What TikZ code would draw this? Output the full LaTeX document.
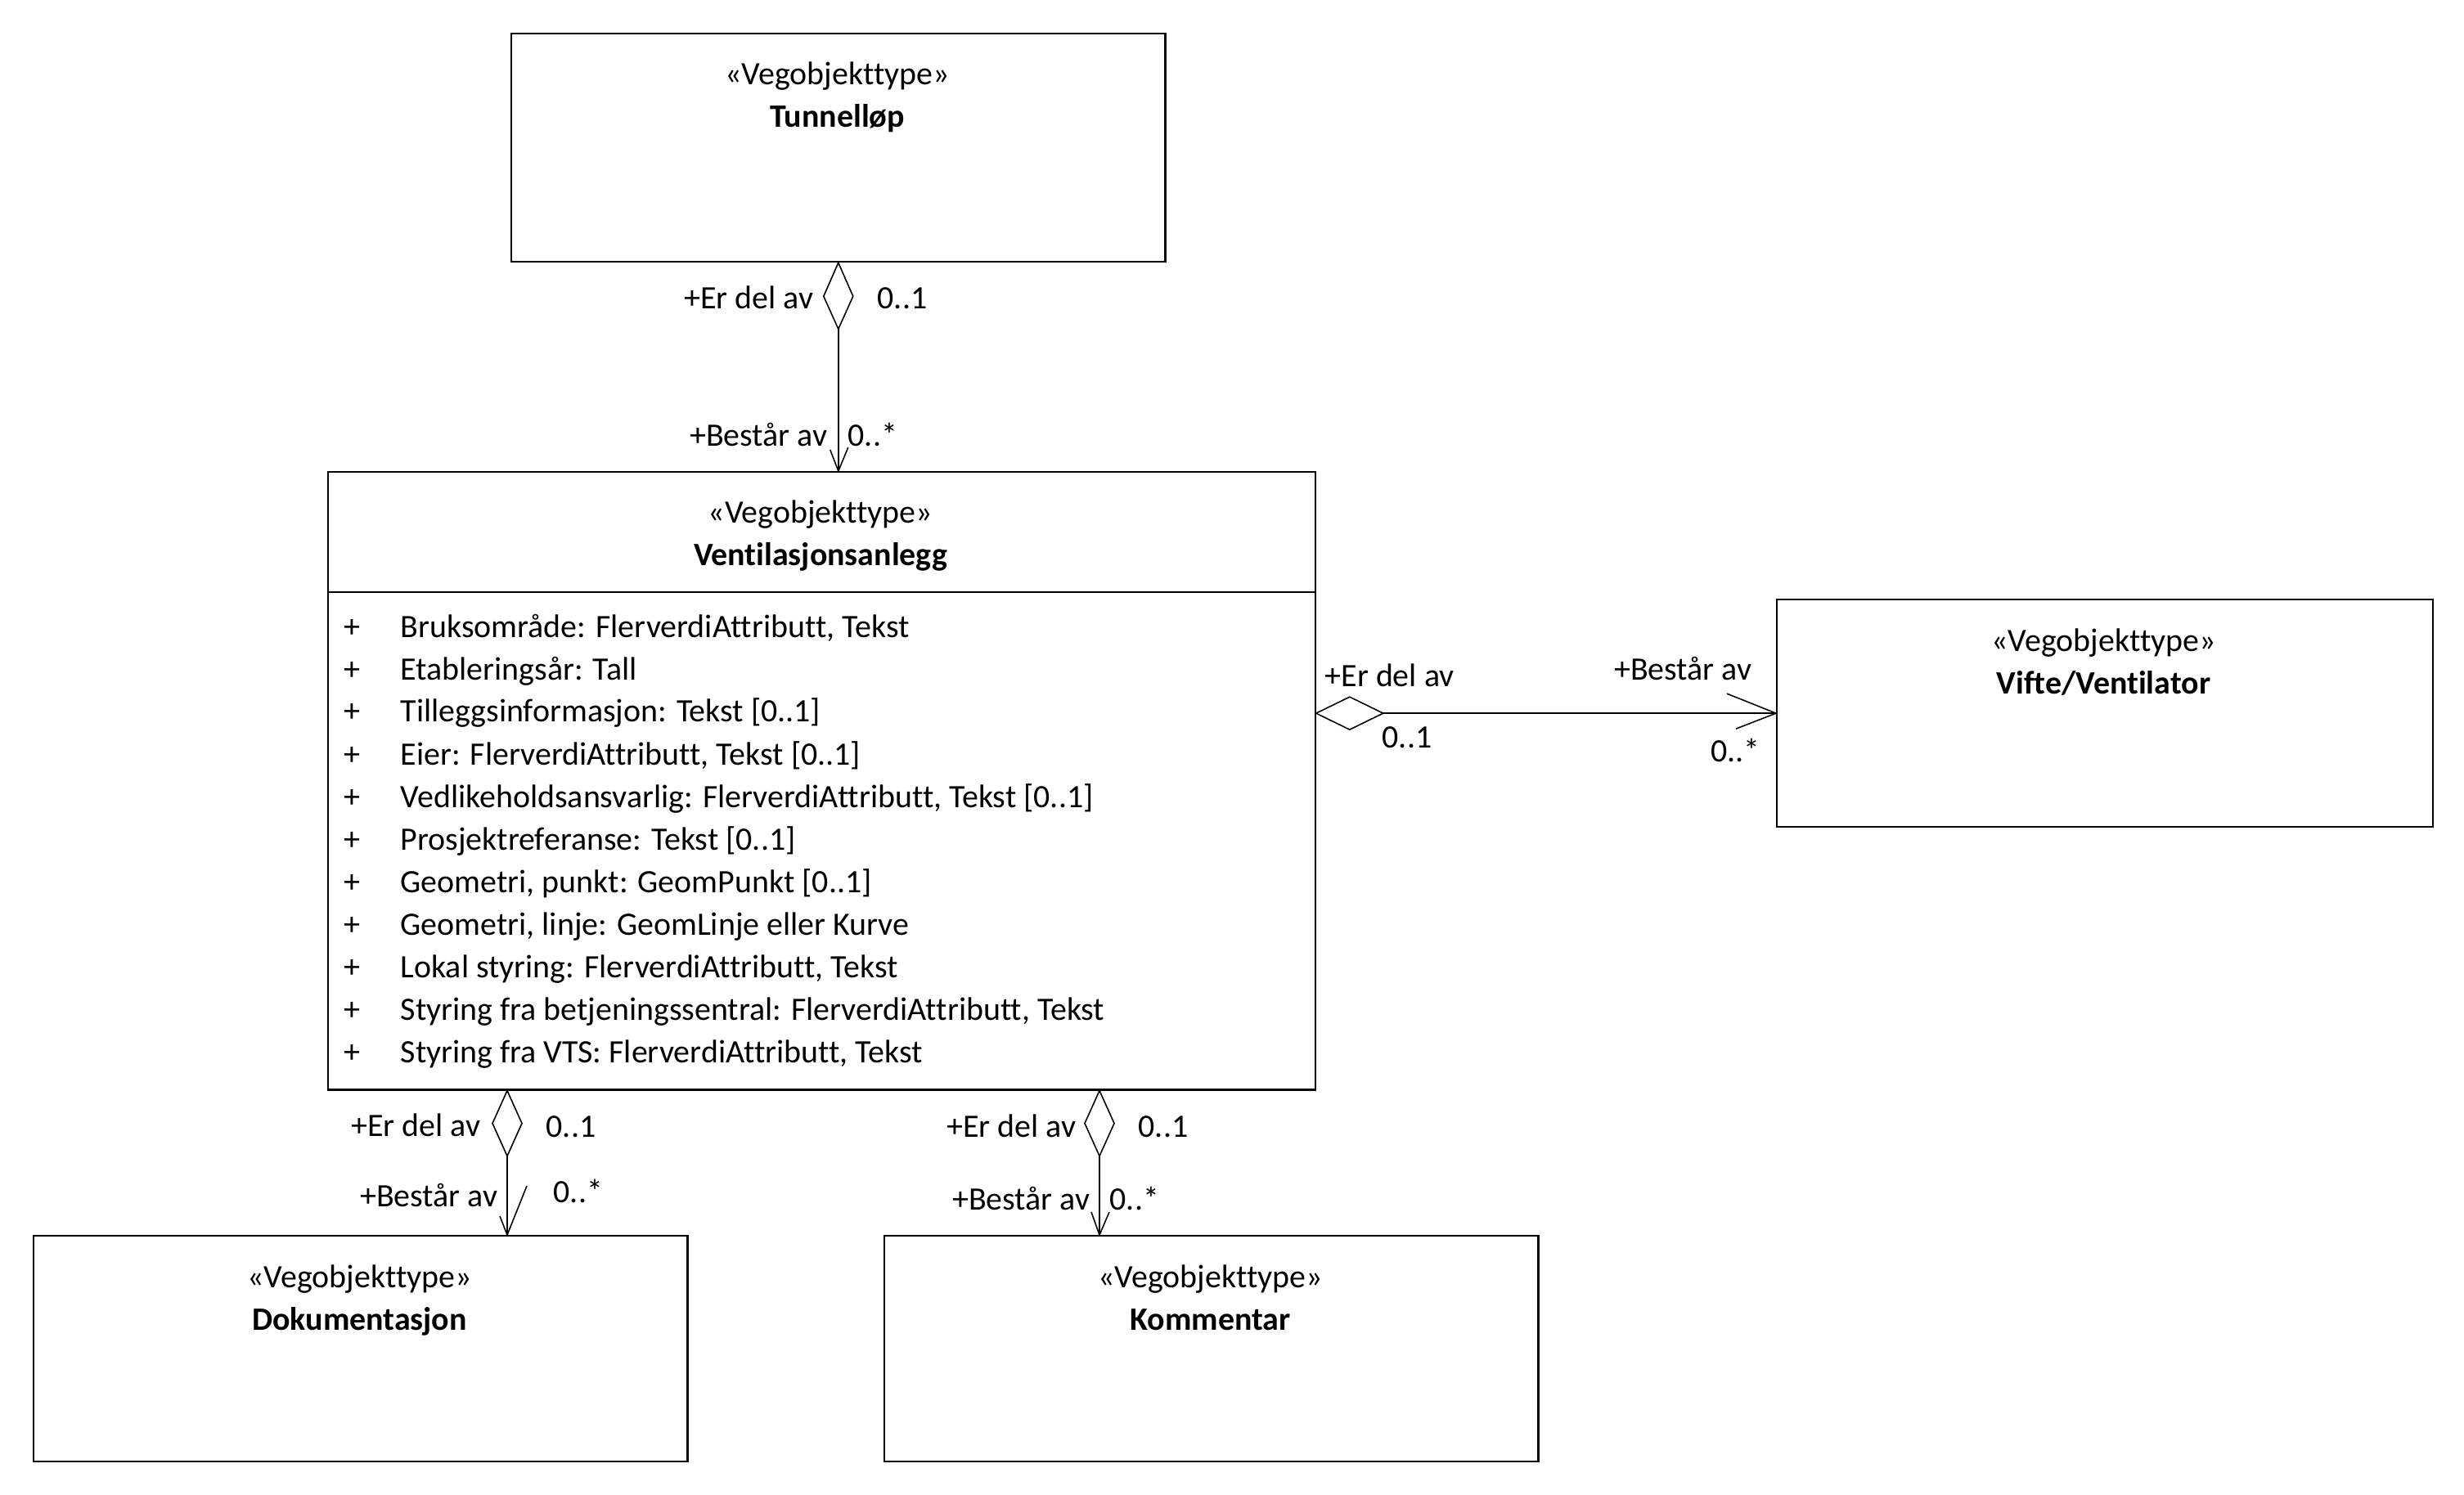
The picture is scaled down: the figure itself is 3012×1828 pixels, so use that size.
\documentclass[tikz,border=0pt]{standalone}
\usepackage{fontspec}
\setmainfont{Carlito}[Ligatures={NoCommon}]
\usetikzlibrary{calc}
\begin{document}
\begin{tikzpicture}[x=0.01cm,y=-0.01cm,
  box/.style={draw=black,line width=0.6pt,fill=white,inner sep=0pt,anchor=north west},
  conn/.style={draw=black,line width=0.45pt},
  txt/.style={inner sep=0pt,font=\fontsize{11.35}{14.8}\selectfont},
  stereo/.style={txt,anchor=base},
  cname/.style={txt,anchor=base,font=\fontsize{11.35}{14.8}\selectfont\bfseries},
  lblE/.style={txt,anchor=base east},
  lblW/.style={txt,anchor=base west},
  attr/.style={txt,anchor=base west}]
\useasboundingbox[fill=white] (0,0) rectangle (3012,1828);

% ---------- boxes ----------
\node[box,minimum width=7.99cm,minimum height=2.79cm] (tun) at (624,40) {};
\node[box,minimum width=12.06cm,minimum height=7.55cm] (vent) at (400,576) {};
\node[box,minimum width=8.01cm,minimum height=2.78cm] (vif) at (2171,732) {};
\node[box,minimum width=7.99cm,minimum height=2.76cm] (dok) at (40,1510) {};
\node[box,minimum width=7.99cm,minimum height=2.76cm] (kom) at (1080,1510) {};

% ---------- box titles ----------
\node[stereo] (tunS) at (1023.5,104) {«Vegobjekttype»};
\node[cname] (tunN) at (1023.5,156) {Tunnelløp};
\node[stereo] (ventS) at (1003,640) {«Vegobjekttype»};
\node[cname] (ventN) at (1003,692) {Ventilasjonsanlegg};
\node[stereo] (vifS) at (2571.5,796) {«Vegobjekttype»};
\node[cname] (vifN) at (2571.5,848) {Vifte/Ventilator};
\node[stereo] (dokS) at (439.5,1574) {«Vegobjekttype»};
\node[cname] (dokN) at (439.5,1626) {Dokumentasjon};
\node[stereo] (komS) at (1479.5,1574) {«Vegobjekttype»};
\node[cname] (komN) at (1479.5,1626) {Kommentar};

% separator
\draw[line width=0.5pt] (vent.west |- 0,724) -- (vent.east |- 0,724);

% ---------- attributes ----------
\foreach \t [count=\i from 0] in {
  {Bruksområde: FlerverdiAttributt, Tekst},
  {Etableringsår: Tall},
  {Tilleggsinformasjon: Tekst [0..1]},
  {Eier: FlerverdiAttributt, Tekst [0..1]},
  {Vedlikeholdsansvarlig: FlerverdiAttributt, Tekst [0..1]},
  {Prosjektreferanse: Tekst [0..1]},
  {Geometri, punkt: GeomPunkt [0..1]},
  {Geometri, linje: GeomLinje eller Kurve},
  {Lokal styring: FlerverdiAttributt, Tekst},
  {Styring fra betjeningssentral: FlerverdiAttributt, Tekst},
  {Styring fra VTS: FlerverdiAttributt, Tekst}} {
  \node[txt,anchor=base] (plus\i) at (430,{779+52*\i}) {+};
  \node[attr] (attr\i) at (489,{779+52*\i}) {\t};
}

% ---------- Tunnelløp -> Ventilasjonsanlegg ----------
\coordinate (d1) at ($(tun.south)+(0,81)$);
\coordinate (e1) at (tun.south |- vent.north);
\draw[conn,fill=white] (tun.south) -- ++(-18,41) -- ++(18,40) -- ++(18,-40) -- cycle;
\draw[conn] (d1) -- (e1);
\draw[conn] (e1) -- ++(-10,-26) (e1) -- ++(12,-29);
\node[lblE] (l1a) at (995,378) {+Er del av};
\node[lblW] (l1b) at (1072,378) {0..1};
\node[lblE] (l1c) at (1012,546) {+Består av};
\node[lblW] (l1d) at (1036,546) {0..*};

% ---------- Ventilasjonsanlegg -> Vifte/Ventilator ----------
\coordinate (s2) at (vif.west -| vent.east);
\coordinate (d2) at ($(s2)+(82,0)$);
\draw[conn,fill=white] (s2) -- ++(41,-20) -- ++(41,20) -- ++(-41,20) -- cycle;
\draw[conn] (d2) -- (vif.west);
\draw[conn] (vif.west) -- ++(-60,-24) (vif.west) -- ++(-49,19);
\node[lblW] (l2a) at (1619,839) {+Er del av};
\node[lblW] (l2b) at (1689,914) {0..1};
\node[lblE] (l2c) at (2142,831) {+Består av};
\node[lblE] (l2d) at (2152,931) {0..*};

% ---------- Ventilasjonsanlegg -> Dokumentasjon ----------
\coordinate (bl) at (620,0);
\coordinate (s3) at (vent.south -| bl);
\coordinate (d3) at ($(s3)+(0,80)$);
\coordinate (e3) at (dok.north -| bl);
\draw[conn,fill=white] (s3) -- ++(-18,40) -- ++(18,40) -- ++(18,-40) -- cycle;
\draw[conn] (d3) -- (e3);
\draw[conn] (e3) -- ++(-9,-23) (e3) -- ++(24,-60);
\node[lblE] (l3a) at (588,1389) {+Er del av};
\node[lblW] (l3b) at (667,1390) {0..1};
\node[lblE] (l3c) at (609,1475) {+Består av};
\node[lblW] (l3d) at (676,1470) {0..*};

% ---------- Ventilasjonsanlegg -> Kommentar ----------
\coordinate (br) at (1344,0);
\coordinate (s4) at (vent.south -| br);
\coordinate (d4) at ($(s4)+(0,80)$);
\coordinate (e4) at (kom.north -| br);
\draw[conn,fill=white] (s4) -- ++(-18,40) -- ++(18,40) -- ++(18,-40) -- cycle;
\draw[conn] (d4) -- (e4);
\draw[conn] (e4) -- ++(-10,-28) (e4) -- ++(12,-28);
\node[lblE] (l4a) at (1316,1390) {+Er del av};
\node[lblW] (l4b) at (1391,1390) {0..1};
\node[lblE] (l4c) at (1333,1479) {+Består av};
\node[lblW] (l4d) at (1356,1479) {0..*};
\end{tikzpicture}
\end{document}
